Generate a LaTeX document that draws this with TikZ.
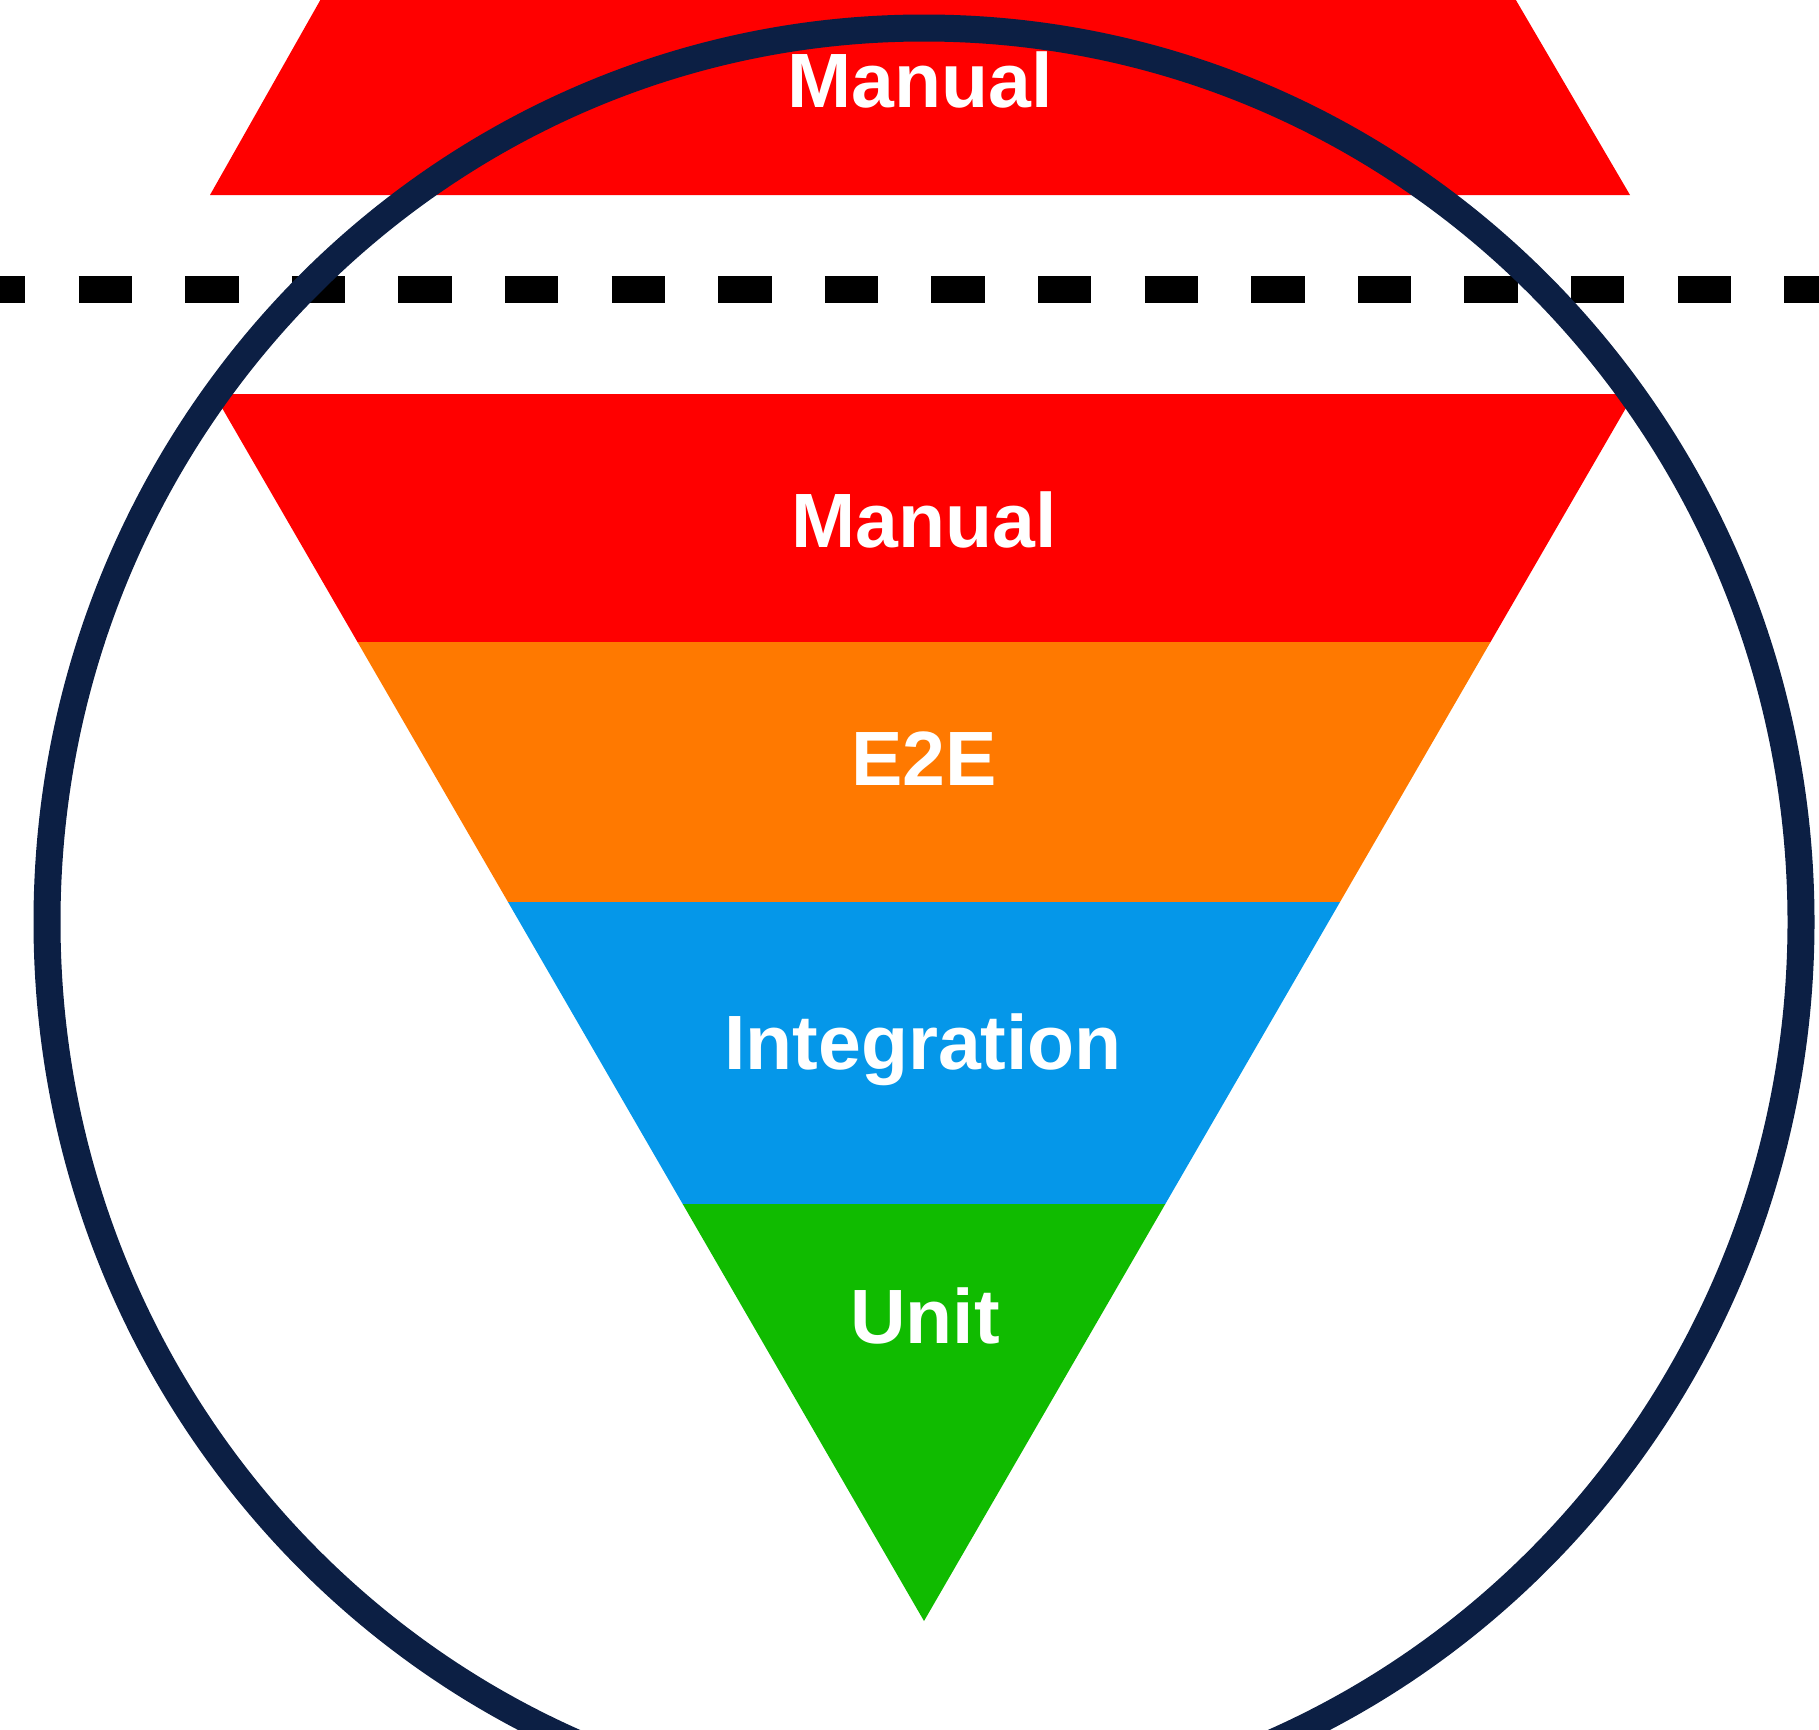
\documentclass[tikz,border=0pt]{standalone}
\usepackage{fontspec}
\setmainfont{Liberation Sans}
\definecolor{redc}{HTML}{FF0000}
\definecolor{orangec}{HTML}{FF7900}
\definecolor{bluec}{HTML}{0597E9}
\definecolor{greenc}{HTML}{10BB00}
\definecolor{navyc}{HTML}{0C1F44}
\begin{document}
\begin{tikzpicture}[x=1pt,y=-1pt,
  lbl/.style={text=white,font=\fontsize{77}{90}\selectfont\bfseries,anchor=base,inner sep=0pt},
  divider/.style={line width=27pt,black,dash pattern=on 53.3pt off 53.3pt},
  ring/.style={line width=27pt,draw=navyc}]
\useasboundingbox (0,0) rectangle (1819,1729);
\begin{scope}
\clip (0,0) rectangle (1819,1729);
% top trapezoid
\coordinate (tA) at (326,-10);
\coordinate (tB) at (1510,-10);
\coordinate (tC) at (1630,195);
\coordinate (tD) at (210,195);
\fill[redc] (tA) -- (tB) -- (tC) -- (tD) -- cycle;
% dashed divider
\coordinate (dL) at (-28,289);
\coordinate (dR) at (1860,289);
\draw[divider] (dL) -- (dR);
% inverted triangle bands
\coordinate (p0l) at (214,394);   \coordinate (p0r) at (1634,394);
\coordinate (p1l) at (357.5,642); \coordinate (p1r) at (1490.5,642);
\coordinate (p2l) at (508,902);   \coordinate (p2r) at (1340,902);
\coordinate (p3l) at (682.7,1204);\coordinate (p3r) at (1165.3,1204);
\coordinate (apex) at (924,1621);
\fill[redc] (p0l) -- (p0r) -- (p1r) -- (p1l) -- cycle;
\fill[orangec] (p1l) -- (p1r) -- (p2r) -- (p2l) -- cycle;
\fill[bluec] (p2l) -- (p2r) -- (p3r) -- (p3l) -- cycle;
\fill[greenc] (p3l) -- (p3r) -- (apex) -- cycle;
% ring
\draw[ring] (924,922) ellipse [x radius=877pt, y radius=894pt];
\end{scope}
% labels
\node[lbl] (mtop) at (920,107) {Manual};
\node[lbl] (man) at (924,547) {Manual};
\node[lbl] (e2e) at (924,785) {E2E};
\node[lbl] (int) at (923,1069) {Integration};
\node[lbl] (unit) at (925,1343) {Unit};
\end{tikzpicture}
\end{document}
